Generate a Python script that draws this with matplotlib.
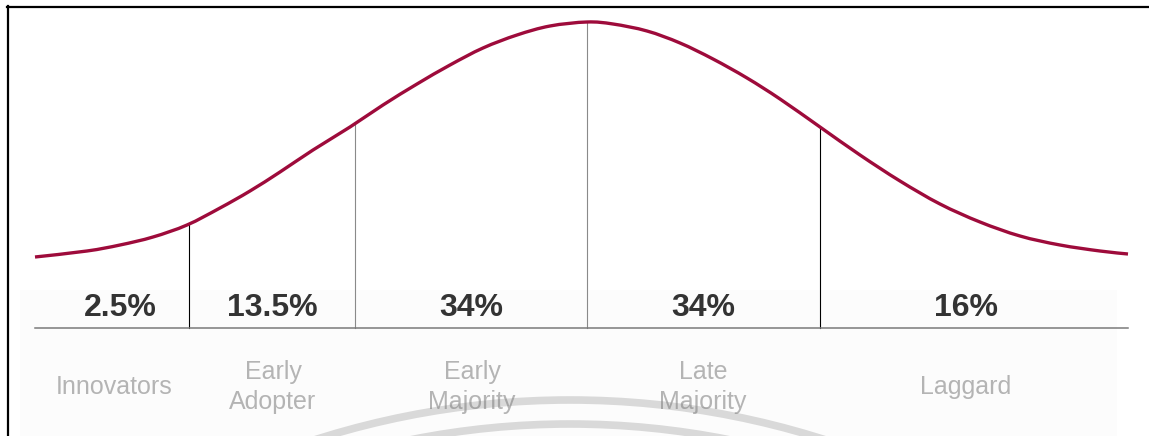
import numpy as np
import matplotlib.pyplot as plt
from matplotlib.patches import Arc, Rectangle, PathPatch
from matplotlib.path import Path

plt.rcParams['font.family'] = ['Liberation Sans', 'DejaVu Sans']

curve_x = [35, 87, 120, 153, 187, 220, 250, 280, 313, 350, 383, 417, 450,
           483, 517, 550, 587, 613, 647, 680, 713, 747, 780, 820, 860, 900,
           940, 980, 1020, 1060, 1100, 1128]
curve_y = [257, 251, 245, 237, 225, 208, 191, 172, 150, 127, 105, 84, 65,
           48, 35, 26, 22, 24, 31, 43, 59, 78, 99, 127, 155, 181,
           204, 222, 236, 245, 251, 254]

# --- Segments
boundaries = [35, 189, 355, 587, 820, 1128]
divider_colors = ['black', '#8a8a8a', '#8a8a8a', 'black']
shares = ['2.5%', '13.5%', '34%', '34%', '16%']
groups = ['Innovators', 'Early\nAdopter', 'Early\nMajority', 'Late\nMajority', 'Laggard']
share_x = [120, 272, 471, 703, 966]
group_x = [114, 273, 472, 703, 966]

base_y = 328


def smooth_path(xs, ys):
    # Catmull-Rom through the read points, drawn as cubic Bezier segments
    pts = np.column_stack([xs, ys]).astype(float)
    verts = [pts[0]]
    codes = [Path.MOVETO]
    n = len(pts)
    for i in range(n - 1):
        p0 = pts[max(i - 1, 0)]
        p1 = pts[i]
        p2 = pts[i + 1]
        p3 = pts[min(i + 2, n - 1)]
        verts += [p1 + (p2 - p0) / 6, p2 - (p3 - p1) / 6, p2]
        codes += [Path.CURVE4] * 3
    return Path(verts, codes)


fig = plt.figure(figsize=(11.49, 4.36), dpi=100)
ax = fig.add_axes([0, 0, 1, 1])
ax.set_xlim(0, 1149)
ax.set_ylim(436, 0)
ax.axis('off')

# faint panel behind the labels
ax.add_patch(Rectangle((20, 290), 1097, 146, facecolor='#fcfcfc',
                       edgecolor='none', zorder=0))

# bell curve
ax.add_patch(PathPatch(smooth_path(curve_x, curve_y), facecolor='none',
                       edgecolor='#9e0b3b', lw=2.4, capstyle='butt', zorder=3))

# dividers from baseline up to the curve
for bx, c in zip(boundaries[1:-1], divider_colors):
    top = np.interp(bx, curve_x, curve_y)
    ax.plot([bx, bx], [top, base_y], color=c, lw=0.8, zorder=2)

# baseline
ax.plot([boundaries[0], boundaries[-1]], [base_y, base_y], color='#7a7a7a',
        lw=1.1, zorder=2)

# labels
for x, s in zip(share_x, shares):
    ax.text(x, 316, s, ha='center', va='baseline', fontsize=23,
            fontweight='bold', color='#333333', zorder=4)
for x, g in zip(group_x, groups):
    ax.text(x, 387, g, ha='center', va='center', fontsize=18,
            color='#b4b4b4', linespacing=1.32, multialignment='center', zorder=4)

# watermark arcs at the bottom
for r in [838, 814]:
    ax.add_patch(Arc((570, 1238), 2 * r, 2 * r, color='#7f7f7f', alpha=0.28,
                     lw=5.5, zorder=5))

# frame (top and left)
ax.plot([7, 1149], [7, 7], color='black', lw=1.6, zorder=6)
ax.plot([8, 8], [6, 436], color='black', lw=1.6, zorder=6)

plt.savefig('out.png', dpi=100)
